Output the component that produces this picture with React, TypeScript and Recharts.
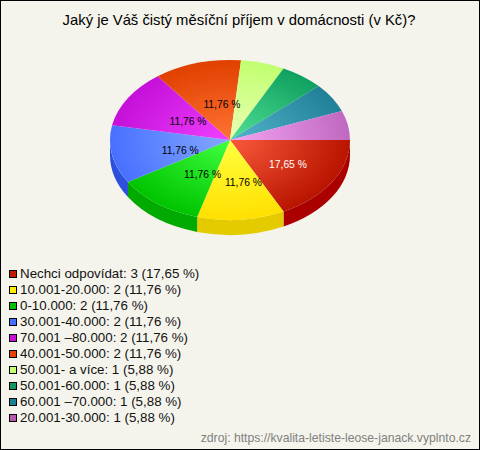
import React from "react";
import { PieChart, Pie, Legend } from "recharts";

const categories = [
  "Nechci odpovídat",
  "10.001-20.000",
  "0-10.000",
  "30.001-40.000",
  "70.001 –80.000",
  "40.001-50.000",
  "50.001- a více",
  "50.001-60.000",
  "60.001 –70.000",
  "20.001-30.000",
];
const counts = [3, 2, 2, 2, 2, 2, 1, 1, 1, 1];
const percentLabels = ["17,65", "11,76", "11,76", "11,76", "11,76", "11,76", "5,88", "5,88", "5,88", "5,88"];
const edgeColors = ["#b81400", "#ffe000", "#00c400", "#4870ff", "#c410d8", "#e04000", "#c0ff70", "#10a060", "#1f8098", "#c068c0"];
const centerColors = ["#fa5a3c", "#ffff40", "#40ff40", "#84a8ff", "#f040ff", "#ff7434", "#ecffb4", "#50e094", "#54b4cc", "#f4a4f4"];
const sideColors = ["#aa0000", "#e3cb00", "#00aa00", "#2c50dc", "#9000a0", "#b03000", "#90c050", "#087048", "#105868", "#904890"];
const legendColors = ["#c01a00", "#ffee00", "#00c000", "#4870ff", "#c810d8", "#e84000", "#c8ff70", "#109860", "#1a8098", "#b858b0"];

const data = categories.map((name, i) => ({ name, value: counts[i] }));

const CX = 230;
const CY = 140;
const R = 120;
const FLAT = 80 / 120;
const DEPTH = 15;
const FONT = '"Liberation Sans", Arial, sans-serif';

const pt = (cx: number, cy: number, r: number, a: number, dy = 0) => {
  const t = (-a * Math.PI) / 180;
  return `${cx + r * Math.cos(t)} ${cy + r * FLAT * Math.sin(t) + dy}`;
};

const TopSlice = (p: any) => {
  const { cx, cy, outerRadius: r, startAngle: s, endAngle: e, index } = p;
  const large = Math.abs(e - s) > 180 ? 1 : 0;
  const d = `M ${cx} ${cy} L ${pt(cx, cy, r, s)} A ${r} ${r * FLAT} 0 ${large} 1 ${pt(cx, cy, r, e)} Z`;
  return <path d={d} fill={`url(#slice${index})`} />;
};

const SideSlice = (p: any) => {
  const { cx, cy, outerRadius: r, startAngle: s, endAngle: e, index } = p;
  const t1 = Math.max(0, -s);
  const t2 = Math.min(180, -e);
  if (t2 <= t1) return <g />;
  const ry = r * FLAT;
  const d = `M ${pt(cx, cy, r, -t1)} A ${r} ${ry} 0 0 1 ${pt(cx, cy, r, -t2)} L ${pt(cx, cy, r, -t2, DEPTH)} A ${r} ${ry} 0 0 0 ${pt(cx, cy, r, -t1, DEPTH)} Z`;
  return <path d={d} fill={sideColors[index]} />;
};

const renderLabel = (p: any) => {
  const { cx, cy, outerRadius: r, midAngle, index } = p;
  if (counts[index] < 2) return null;
  const t = (-midAngle * Math.PI) / 180;
  const x = cx + r * 0.49 * Math.cos(t) + 8;
  const y = cy + r * FLAT * 0.5 * Math.sin(t) + 3;
  return (
    <text x={x} y={y} textAnchor="middle" dominantBaseline="central" fontSize={10.3} fontFamily={FONT} fill={index === 0 ? "#ffffff" : "#000000"}>
      {percentLabels[index]} %
    </text>
  );
};

const renderLegend = () => (
  <div style={{ fontFamily: FONT, fontSize: 13.33, color: "#111" }}>
    {categories.map((c, i) => (
      <div key={c} style={{ height: 16, lineHeight: "16px", display: "flex", alignItems: "center", whiteSpace: "nowrap" }}>
        <span style={{ width: 6, height: 6, border: "1px solid #000", background: legendColors[i], marginRight: 3, flex: "none" }} />
        {`${c}: ${counts[i]} (${percentLabels[i]} %)`}
      </div>
    ))}
  </div>
);

export default function App() {
  return (
    <div style={{ position: "absolute", left: 0, top: 0, width: 480, height: 450, boxSizing: "border-box", background: "#f5f4ec", border: "1px solid #000", overflow: "hidden" }}>
      <div style={{ position: "absolute", left: -1, top: 11, width: 478, textAlign: "center", fontFamily: FONT, fontSize: 14.8, color: "#000" }}>
        Jaký je Váš čistý měsíční příjem v domácnosti (v Kč)?
      </div>
      <div style={{ position: "absolute", left: -1, top: -1 }}>
        <PieChart width={480} height={450} margin={{ top: 0, right: 0, bottom: 0, left: 0 }}>
          <defs>
            {edgeColors.map((c, i) => (
              <radialGradient key={i} id={`slice${i}`} gradientUnits="userSpaceOnUse" cx={0} cy={0} r={1} gradientTransform={`translate(${CX} ${CY}) scale(${R} ${R * FLAT})`}>
                <stop offset="0%" stopColor={centerColors[i]} />
                <stop offset="100%" stopColor={c} />
              </radialGradient>
            ))}
          </defs>
          <Pie data={data} dataKey="value" nameKey="name" cx={CX} cy={CY} outerRadius={R} startAngle={0} endAngle={-360} stroke="none" isAnimationActive={false} shape={SideSlice} legendType="none" />
          <Pie data={data} dataKey="value" nameKey="name" cx={CX} cy={CY} outerRadius={R} startAngle={0} endAngle={-360} stroke="none" isAnimationActive={false} shape={TopSlice} label={renderLabel} labelLine={false} />
          <Legend layout="vertical" align="center" verticalAlign="middle" content={renderLegend} wrapperStyle={{ position: "absolute", left: 9, top: 266, width: 300 }} />
        </PieChart>
      </div>
      <div style={{ position: "absolute", right: 8, top: 430, fontFamily: FONT, fontSize: 12.2, color: "#808080", whiteSpace: "nowrap" }}>
        zdroj: https://kvalita-letiste-leose-janack.vyplnto.cz
      </div>
    </div>
  );
}
